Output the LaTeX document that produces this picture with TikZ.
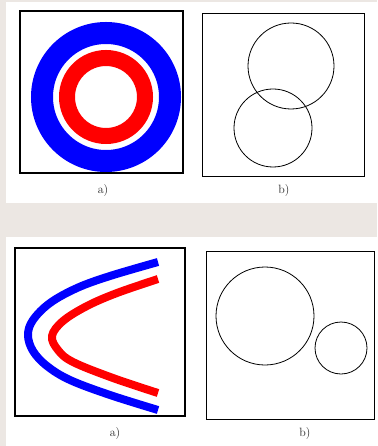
\documentclass[tikz,border=0pt]{standalone}
\begin{document}
\begin{tikzpicture}[x=1pt,y=-1pt,
  lbl/.style={font=\fontsize{12}{13}\selectfont, inner sep=0pt, text=black!85},
  thickbox/.style={draw=black, line width=2.2pt},
  thinbox/.style={draw=black, line width=0.9pt},
  circ/.style={draw=black, line width=0.8pt},
  band/.style={line width=8pt, line cap=butt, line join=round}]
\definecolor{bggrey}{RGB}{236,231,227}
\definecolor{pblue}{RGB}{0,0,255}
\definecolor{pred}{RGB}{255,0,0}
\useasboundingbox (0,0) rectangle (377,446);
\fill[bggrey] (0,0) rectangle (377,446);
\fill[white] (6,2) rectangle (377,203);
\fill[white] (6,237) rectangle (377,446);
% top-left: rings
\draw[pblue, line width=22pt] (106,97) circle[radius=64];
\draw[pred, line width=16pt] (106,97) circle[radius=39];
\draw[thickbox] (20,11) rectangle (183,173);
% top-right
\draw[thinbox] (202,13) rectangle (364,176);
\draw[circ] (291,66) circle[radius=43];
\draw[circ] (273,128) circle[radius=39];
\node[lbl] (la1) at (103,191) {a)};
\node[lbl] (lb1) at (284,191) {b)};
% bottom-left: curves
\draw[pblue, band] plot[smooth, tension=0.6] coordinates {(158,262) (110,276) (77,288) (50,303) (33,320) (28,335) (33,351) (47,366) (70,380) (110,395) (158,410)};
\draw[pred, band] plot[smooth, tension=0.6] coordinates {(158,279) (117,293) (87,306) (63,321) (52,336) (58,350) (73,362) (113,378) (158,393)};
\draw[thickbox] (15,248) rectangle (185,416);
% bottom-right
\draw[thinbox] (206,251) rectangle (374,419);
\draw[circ] (265,316) circle[radius=49];
\draw[circ] (341,348) circle[radius=26];
\node[lbl] (la2) at (115,434) {a)};
\node[lbl] (lb2) at (305,434) {b)};
\end{tikzpicture}
\end{document}
